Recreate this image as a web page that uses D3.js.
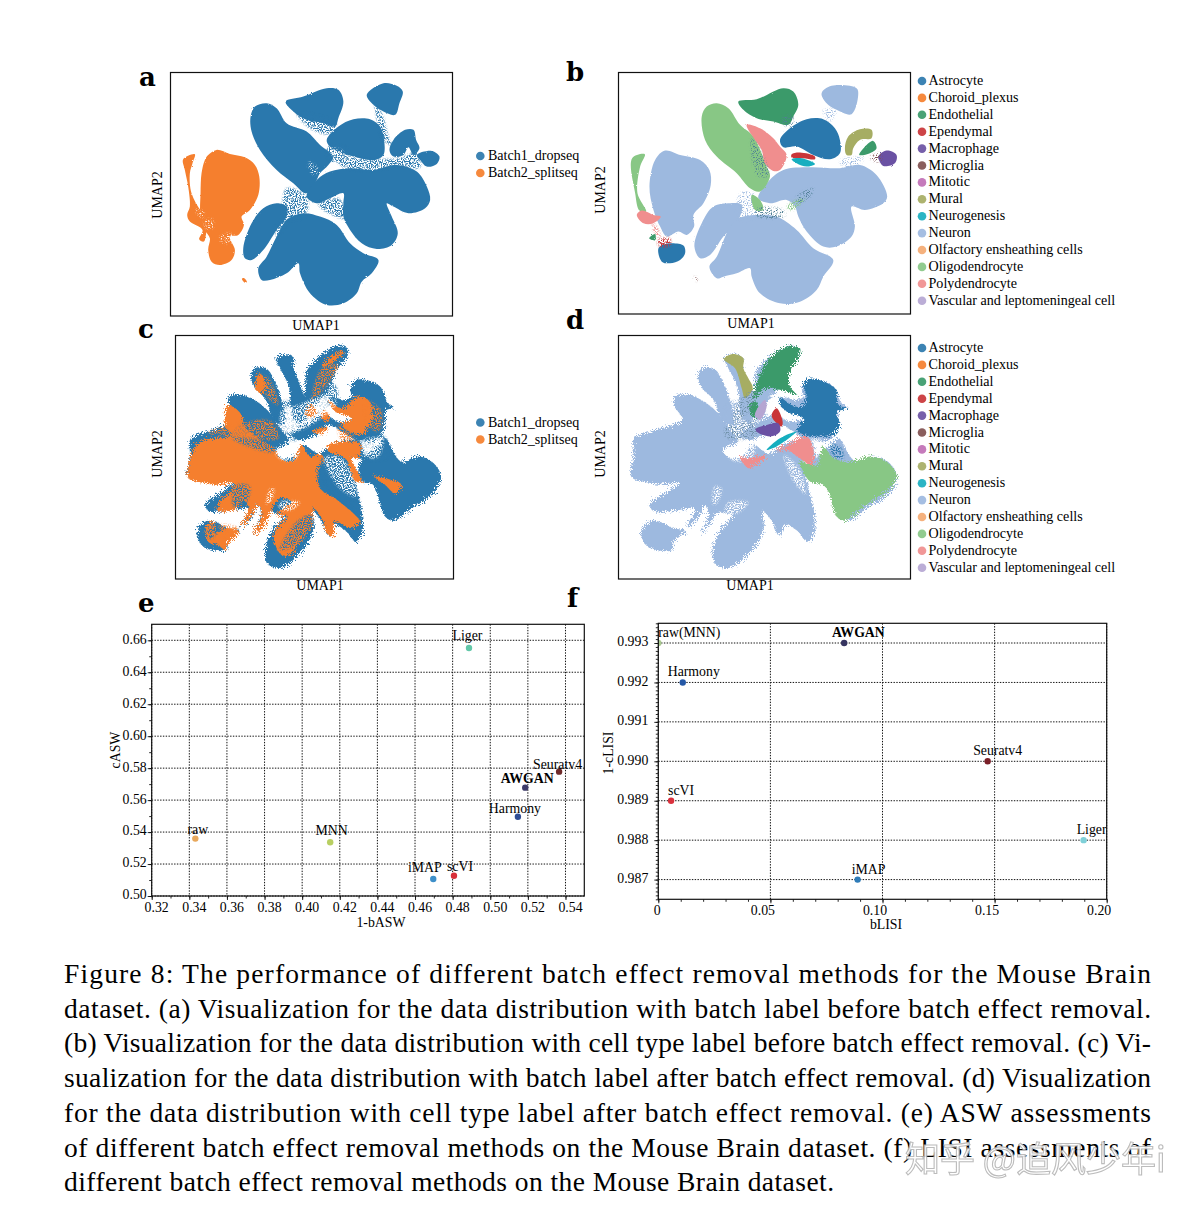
<!DOCTYPE html>
<html><head><meta charset="utf-8">
<script src="https://cdn.jsdelivr.net/npm/d3@7"></script>
<style>
html,body{margin:0;padding:0;background:#fff}
svg{display:block}
text{font-family:"Liberation Serif",serif;fill:#000}
</style></head><body>
<script>
// ---------- categories ----------
const batches = ["Batch1_dropseq", "Batch2_splitseq"];
const batchColors = ["#2b78ad", "#f57f2d"];
const cellTypes = ["Astrocyte","Choroid_plexus","Endothelial","Ependymal","Macrophage","Microglia","Mitotic","Mural","Neurogenesis","Neuron","Olfactory ensheathing cells","Oligodendrocyte","Polydendrocyte","Vascular and leptomeningeal cell"];
const cellColors = ["#2b78ad","#f57f2d","#3a9a6a","#c93437","#6a51a3","#80504f","#c06fb5","#a6ad63","#19aebf","#9db9df","#f4aa72","#88c785","#f08e8e","#b5a6d2"];

// ---------- panel e ----------
const aswMethods = ["raw","MNN","iMAP","scVI","Liger","Harmony","AWGAN","Seuratv4"];
const bASW = [0.3432,0.4149,0.4697,0.4807,0.4887,0.5147,0.5186,0.5366];
const cASW = [0.5359,0.5336,0.5106,0.5127,0.6552,0.5496,0.5678,0.5778];
const aswColors = ["#e8a85c","#b8cf62","#3d8fc9","#d8303a","#62c7a8","#2f4d94","#3c3a68","#6e2a2a"];
const bASWTicks = [0.32,0.34,0.36,0.38,0.40,0.42,0.44,0.46,0.48,0.50,0.52,0.54];
const cASWTicks = [0.50,0.52,0.54,0.56,0.58,0.60,0.62,0.64,0.66];

// ---------- panel f ----------
const lisiMethods = ["raw(MNN)","AWGAN","Harmony","Seuratv4","scVI","Liger","iMAP"];
const bLISI = [0.0,0.0829,0.0109,0.1469,0.0057,0.1897,0.0889];
const cLISI = [0.993,0.993,0.992,0.990,0.989,0.988,0.987];
const lisiColors = ["#a9c98f","#363460","#2458a6","#7a1f28","#d9303c","#7fd0d8","#2f7cb8"];
const bLISITicks = [0,0.05,0.10,0.15,0.20];
const cLISITicks = [0.987,0.988,0.989,0.990,0.991,0.992,0.993];

// ---------- UMAP outlines (embedding units) ----------
const aOrange = [
 [[235,285],[260,270],[300,282],[345,292],[375,315],[388,350],[385,405],[360,450],[335,470],[342,495],[325,525],[300,530],[315,570],[305,600],[270,615],[245,605],[235,570],[240,535],[225,510],[212,470],[212,400],[215,340],[225,300]],
 [[160,298],[195,283],[188,310],[180,340],[185,400],[215,455],[250,490],[232,510],[222,545],[208,538],[218,510],[180,485],[172,465],[180,440],[175,380],[165,330]],
 [[336,656],[342,654],[351,666],[345,668]]
];
const aBlue = [
 [[362,170],[375,140],[410,130],[440,145],[470,190],[530,215],[570,255],[610,290],[595,315],[570,340],[560,360],[540,395],[525,400],[490,370],[440,330],[390,270],[365,215]],
 [[467,125],[520,110],[590,85],[625,90],[640,125],[625,175],[615,200],[580,190],[530,180],[490,155]],
 [[710,105],[760,70],[800,78],[818,95],[808,130],[795,165],[760,155],[730,135]],
 [[590,240],[625,200],[670,178],[720,178],[750,200],[762,240],[760,285],[735,300],[690,295],[640,280],[600,260]],
 [[778,270],[790,240],[825,210],[850,210],[858,240],[868,265],[850,285],[835,262],[820,285],[790,290]],
 [[860,285],[905,273],[928,290],[920,312],[890,320],[870,300]],
 [[530,410],[560,360],[600,335],[660,325],[730,330],[800,315],[860,335],[890,380],[900,420],[885,445],[835,460],[790,440],[770,430],[785,470],[803,520],[785,555],[740,567],[695,550],[660,510],[640,470],[640,430],[640,400],[600,415],[560,430]],
 [[340,565],[365,490],[400,445],[440,430],[470,440],[470,470],[440,510],[400,570],[365,600],[345,595]],
 [[385,625],[410,590],[440,530],[470,480],[520,460],[570,470],[620,495],[660,550],[700,580],[745,600],[725,640],[695,665],[680,700],[640,730],[590,735],[540,700],[510,640],[505,610],[470,640],[420,660],[395,660]]
];
const aBlueGrain = [
 [[470,385],[530,410],[525,470],[465,475]],
 [[565,432],[625,415],[650,475],[600,462]],
 [[595,258],[655,268],[640,305],[595,295]],
 [[620,290],[720,298],[800,295],[860,280],[870,322],[800,322],[690,332],[630,315]],
 [[735,135],[755,160],[775,230],[785,255],[760,240],[740,175]],
 [[500,160],[620,190],[600,222],[540,205]],
 [[440,500],[475,465],[470,490],[440,530]]
];
const aWhiteGrain = [
 [[225,482],[248,478],[248,505],[228,505]],
 [[272,527],[308,522],[303,548],[274,548]],
 [[198,448],[222,456],[222,472],[207,468]],
 [[540,305],[565,330],[552,345],[535,322]],
 [[600,265],[640,275],[625,290],[605,285]]
];

const bLight = [
 [[118,380],[135,300],[165,272],[210,285],[270,300],[298,330],[302,375],[280,430],[250,465],[252,500],[230,525],[205,515],[170,530],[150,500],[130,450]],
 [[635,100],[665,78],[740,85],[745,105],[725,163],[680,150],[650,130]],
 [[445,415],[470,370],[520,330],[600,322],[690,325],[750,315],[800,345],[832,410],[820,430],[765,450],[725,440],[735,500],[725,530],[680,560],[640,560],[590,515],[565,470],[555,440],[530,420],[480,430]],
 [[253,560],[275,490],[310,440],[360,430],[395,435],[385,480],[340,530],[300,585],[270,595]],
 [[298,620],[320,590],[355,510],[385,475],[440,465],[500,470],[560,510],[610,565],[670,600],[640,650],[620,690],[570,725],[510,730],[450,700],[425,650],[420,625],[380,640],[340,650],[320,655]]
];
const bLightGrain = [
 [[390,400],[430,400],[440,470],[385,478]],
 [[640,150],[680,150],[660,185],[650,178]],
 [[690,300],[760,295],[740,320],[700,322]]
];
const bOligo = [
 [[275,170],[290,140],[320,130],[355,145],[390,195],[430,230],[470,320],[480,350],[450,395],[420,385],[380,340],[320,290],[285,240]],
 [[66,295],[104,283],[90,320],[82,400],[108,455],[88,452],[75,400]],
 [[425,405],[450,420],[460,450],[435,450]]
];
const bOligoGrain = [[[530,440],[570,415],[585,415],[545,452]]];
const bEndo = [
 [[385,125],[440,118],[520,85],[550,95],[565,135],[550,170],[535,195],[490,185],[440,175],[400,150]],
 [[748,285],[770,255],[790,243],[800,265],[780,280]],
 [[117,535],[135,522],[135,541]]
];
const bPoly = [
 [[410,195],[450,205],[490,235],[510,260],[530,285],[510,330],[490,333],[465,310],[455,270],[435,240]],
 [[80,465],[95,452],[130,465],[152,470],[130,490],[100,490]]
];
const bAstro = [
 [[510,240],[540,205],[590,178],[640,178],[675,205],[690,240],[690,280],[660,298],[610,285],[560,260],[520,262]],
 [[145,565],[165,552],[220,557],[225,580],[210,600],[180,610],[155,605]]
];
const bEpen = [[[545,283],[570,278],[615,290],[615,298],[580,295],[545,293]]];
const bNeuro = [[[545,298],[575,295],[615,312],[590,320],[560,310]]];
const bMural = [[[705,265],[715,230],[750,208],[785,210],[785,235],[750,240],[730,265],[725,285],[710,285]]];
const bMacro = [[[805,290],[830,272],[860,285],[855,310],[820,318],[808,302]]];
const bMicro = [[[780,292],[810,280],[815,305],[795,305]],[[250,650],[256,650],[263,662],[258,664]]];
const bGrayGrain = [
 [[425,235],[465,300],[475,345],[445,350],[425,290]],
 [[520,170],[550,170],[545,200],[520,195]],
 [[440,445],[520,450],[525,470],[440,468]],
 [[560,410],[610,385],[600,410],[565,430]]
];
const bRedGrain = [[[145,538],[180,535],[180,558],[145,558]]];
const bPaleGrain = [[[130,490],[150,520],[148,535],[125,500]]];

// silhouette after batch correction; shared by panels c and d
const cSilhouette = [
 [[78,340],[130,318],[190,298],[215,285],[190,240],[195,212],[240,212],[290,240],[320,270],[345,310],[370,350],[330,375],[350,400],[385,395],[415,360],[460,385],[520,350],[585,350],[590,400],[560,400],[570,470],[590,560],[592,620],[570,650],[545,620],[510,600],[490,632],[470,590],[445,560],[445,620],[400,690],[350,728],[310,720],[300,680],[325,610],[360,570],[330,565],[320,560],[290,600],[265,630],[288,570],[280,540],[255,585],[225,610],[250,550],[225,552],[170,560],[130,558],[122,535],[150,515],[205,472],[170,478],[100,470],[68,455],[75,390]],
 [[257,150],[275,128],[305,132],[330,170],[355,245],[360,300],[330,290],[300,220],[270,190]],
 [[335,100],[365,88],[388,100],[385,125],[400,165],[420,230],[400,290],[385,280],[370,180],[345,130]],
 [[425,140],[470,90],[520,62],[548,70],[545,100],[520,125],[490,190],[450,240],[420,280],[400,300],[420,200]],
 [[555,190],[575,165],[620,170],[650,190],[668,235],[688,248],[662,258],[660,300],[640,340],[600,350],[560,340],[530,320],[490,300],[450,330],[400,345],[380,330],[420,300],[480,270],[520,290],[560,280],[530,260],[490,235],[500,218],[540,225],[560,215]],
 [[660,340],[690,390],[710,410],[760,395],[800,410],[828,455],[800,510],[740,550],[685,588],[660,575],[640,520],[625,480],[590,470],[580,450],[590,400],[630,370]],
 [[95,625],[120,590],[150,590],[190,610],[225,618],[190,650],[185,675],[140,675],[110,660]]
];
const cBridgeGrain = [
 [[340,240],[420,225],[470,270],[400,345],[350,335]],
 [[590,340],[660,335],[665,400],[600,400]],
 [[440,200],[500,170],[520,210],[470,260]]
];
const cOrange = [
 [[75,400],[105,350],[200,330],[180,300],[190,240],[230,270],[235,300],[280,340],[330,370],[340,395],[380,410],[410,360],[435,395],[465,385],[480,410],[460,430],[465,490],[510,520],[570,570],[585,590],[560,610],[510,590],[505,635],[485,625],[470,580],[445,550],[440,600],[400,660],[365,695],[340,680],[325,630],[365,570],[335,575],[345,555],[380,530],[345,520],[320,560],[300,600],[265,630],[290,570],[280,540],[255,580],[225,608],[250,550],[240,530],[210,555],[155,555],[165,530],[205,490],[205,472],[170,480],[120,475],[70,460],[68,440]],
 [[270,190],[285,145],[300,175],[290,205]],
 [[470,125],[530,75],[535,85],[480,125]],
 [[490,225],[530,250],[580,215],[610,225],[620,280],[590,330],[530,300],[560,280],[510,260]],
 [[420,265],[440,240],[455,260],[430,280]],
 [[470,270],[480,255],[495,280],[475,290]],
 [[440,320],[490,305],[470,325]],
 [[490,360],[560,350],[585,355],[580,400],[560,400],[590,470],[570,470],[540,400],[490,380]],
 [[625,455],[660,460],[710,480],[690,505],[660,480]],
 [[125,600],[150,590],[150,625],[190,610],[222,620],[190,655],[180,675],[160,660],[130,650]]
];
const cBlueGrain = [
 [[200,335],[235,295],[320,295],[345,345],[335,380],[250,365]],
 [[470,400],[520,400],[570,480],[580,560],[510,505],[480,470]],
 [[215,480],[255,485],[240,540],[205,545]],
 [[345,675],[395,590],[440,570],[420,640]],
 [[130,610],[150,600],[145,640],[130,640]]
];
const cOrangeGrain = [
 [[275,150],[310,160],[340,240],[310,220]],
 [[470,130],[520,120],[470,200],[440,230]],
 [[130,325],[200,300],[320,290],[340,340],[200,335]],
 [[520,300],[570,340],[530,345]],
 [[160,600],[220,610],[190,640]],
 [[600,225],[650,260],[640,320],[610,300]]
];
const cWhiteGrain = [
 [[332,380],[370,368],[400,372],[392,403],[347,403]],
 [[350,255],[400,240],[470,215],[515,232],[470,278],[400,318],[355,318]],
 [[592,348],[640,338],[655,348],[636,398],[602,393]],
 [[478,398],[528,398],[568,470],[575,515],[522,488]],
 [[315,492],[328,492],[318,528],[304,538]],
 [[345,532],[405,532],[378,556],[345,553]],
 [[155,592],[222,616],[195,608]]
];

// panel d overlays
const dEndo = [
 [[440,175],[470,110],[530,65],[570,70],[565,100],[540,140],[540,185],[560,210],[510,195],[460,195],[430,225]],
 [[418,240],[440,230],[445,255],[430,280]]
];
const dMural = [[[342,103],[365,88],[400,100],[400,130],[415,160],[428,190],[405,220],[395,190],[375,130]]];
const dAstro = [[[580,180],[600,162],[640,170],[680,195],[685,240],[715,250],[680,262],[690,300],[670,330],[620,335],[560,320],[580,280],[540,265],[510,240],[510,218],[545,240],[575,245],[590,220]]];
const dOligo = [[[570,410],[620,420],[640,365],[670,400],[720,410],[780,395],[830,410],[862,455],[830,500],[760,545],[705,587],[680,575],[655,500],[640,480],[600,470]]];
const dPoly = [[[500,380],[540,355],[590,335],[610,370],[605,420],[570,400],[530,375]],[[390,395],[410,400],[470,390],[415,430]]];
const dEpen = [[[485,270],[500,250],[518,290],[515,305],[495,290]]];
const dMacro = [[[435,315],[470,300],[505,295],[510,320],[480,335]]];
const dVlmc = [[[435,270],[465,225],[470,245],[450,285]]];
const dNeuro = [[[470,375],[510,340],[560,320],[500,365]]];
const dAstroGrain = [[[660,360],[690,365],[700,400],[670,395]]];
const dGrayGrain = [[[345,310],[430,290],[440,330],[350,340]],[[380,240],[440,190],[420,260],[370,290]]];
const dNeuronGrain = [[[350,240],[430,225],[470,275],[400,345],[355,335]]];
const dWhiteGrain = [
 [[348,378],[395,368],[438,362],[418,408],[362,403]],
 [[482,205],[518,248],[482,248]],
 [[602,342],[638,347],[620,398],[612,380]],
 [[522,392],[568,432],[588,508],[552,470]],
 [[315,484],[335,492],[320,536],[308,538]],
 [[355,532],[415,532],[380,566],[345,558]],
 [[155,597],[222,616],[195,608]],
 [[440,345],[505,332],[468,372]]
];

const captionLines = [
 "Figure 8: The performance of different batch effect removal methods for the Mouse Brain",
 "dataset. (a) Visualization for the data distribution with batch label before batch effect removal.",
 "(b) Visualization for the data distribution with cell type label before batch effect removal. (c) Vi-",
 "sualization for the data distribution with batch label after batch effect removal. (d) Visualization",
 "for the data distribution with cell type label after batch effect removal. (e) ASW assessments",
 "of different batch effect removal methods on the Mouse Brain dataset. (f) LISI assessments of",
 "different batch effect removal methods on the Mouse Brain dataset."
];

// ---------- drawing ----------
const W=1204,H=1208;
const svg=d3.select("body").append("svg").attr("width",W).attr("height",H).attr("viewBox",`0 0 ${W} ${H}`);
const defs=svg.append("defs");
function rough(id,freq,scale){
  const f=defs.append("filter").attr("id",id).attr("filterUnits","userSpaceOnUse")
    .attr("x",0).attr("y",0).attr("width",W).attr("height",H);
  f.append("feTurbulence").attr("type","fractalNoise").attr("baseFrequency",freq).attr("numOctaves",2).attr("seed",3).attr("result","n");
  f.append("feDisplacementMap").attr("in","SourceGraphic").attr("in2","n").attr("scale",scale);
}
function grain(id,freq,k,c,seed){
  const f=defs.append("filter").attr("id",id).attr("filterUnits","userSpaceOnUse")
    .attr("x",0).attr("y",0).attr("width",W).attr("height",H).attr("color-interpolation-filters","sRGB");
  f.append("feGaussianBlur").attr("in","SourceGraphic").attr("stdDeviation",1.2).attr("result","soft");
  f.append("feTurbulence").attr("type","fractalNoise").attr("baseFrequency",freq).attr("numOctaves",1).attr("seed",seed).attr("result","n");
  f.append("feColorMatrix").attr("in","n").attr("type","matrix")
    .attr("values",`0 0 0 0 0  0 0 0 0 0  0 0 0 0 0  ${k} 0 0 0 ${-c}`).attr("result","m");
  f.append("feComposite").attr("in","soft").attr("in2","m").attr("operator","in");
}
rough("rough",0.9,2);
rough("fuzzy",1.1,9);
grain("grainA",0.85,7,3.1,5);
grain("grainB",0.8,7,3.6,11);

const line=(x,y)=>d3.line().x(d=>x(d[0])).y(d=>y(d[1])).curve(d3.curveCatmullRomClosed.alpha(0.5));

function umap(id,r,domX,domY){
  const x=d3.scaleLinear().domain(domX).range([r.x0,r.x1]);
  const y=d3.scaleLinear().domain(domY).range([r.y0,r.y1]);
  defs.append("clipPath").attr("id",id).append("rect").attr("x",r.x0).attr("y",r.y0).attr("width",r.x1-r.x0).attr("height",r.y1-r.y0);
  const g=svg.append("g").attr("clip-path",`url(#${id})`);
  const api={
    x,y,
    layer(shapes,color,filter,sx,sy){
      const l=line(sx||x,sy||y);
      g.append("g").attr("filter",`url(#${filter||"rough"})`)
       .selectAll("path").data(shapes).join("path").attr("d",l).attr("fill",color);
      return api;
    }
  };
  api.frame=()=>svg.append("rect").attr("x",r.x0).attr("y",r.y0).attr("width",r.x1-r.x0).attr("height",r.y1-r.y0)
     .attr("fill","none").attr("stroke","#111").attr("stroke-width",1.2);
  return api;
}
const blue=batchColors[0],orange=batchColors[1];
const col=n=>cellColors[cellTypes.indexOf(n)];

// a
const pa=umap("ca",{x0:170.5,x1:452.5,y0:72.5,y1:316},[122,967],[38,768]);
pa.layer(aBlue,blue).layer(aBlueGrain,blue,"grainA").layer(aOrange,orange).layer(aWhiteGrain,"#fff","grainB"); pa.frame();
// b
const pb=umap("cb",{x0:618.5,x1:910.5,y0:72.5,y1:314},[25,902],[38,762]);
pb.layer(bLight,col("Neuron")).layer(bLightGrain,col("Neuron"),"grainB").layer(bOligo,col("Oligodendrocyte")).layer(bOligoGrain,col("Oligodendrocyte"),"grainA").layer(bEndo,col("Endothelial")).layer(bPoly,col("Polydendrocyte"))
  .layer(bAstro,col("Astrocyte")).layer(bEpen,col("Ependymal")).layer(bNeuro,col("Neurogenesis")).layer(bMural,col("Mural"))
  .layer(bMacro,col("Macrophage")).layer(bMicro,col("Microglia"),"grainB")
  .layer(bGrayGrain,"#4f7f95","grainB").layer(bRedGrain,col("Ependymal"),"grainA").layer(bPaleGrain,col("Polydendrocyte"),"grainA"); pb.frame();
// c
const pc=umap("cc",{x0:175.5,x1:453.5,y0:335.5,y1:579},[32,865],[32,762]);
pc.layer(cSilhouette,blue,"fuzzy").layer(cBridgeGrain,blue,"grainA").layer(cOrange,orange,"fuzzy").layer(cBlueGrain,blue,"grainA").layer(cOrangeGrain,orange,"grainA").layer(cWhiteGrain,"#fff","grainA"); pc.frame();
// d
const pd=umap("cd",{x0:618.5,x1:910.5,y0:335.5,y1:579},[32,865],[32,762]);
const dx=d3.scaleLinear().domain([25,902]).range([618.5,910.5]);
pd.layer(cSilhouette,col("Neuron"),"fuzzy");
[[dNeuronGrain,col("Neuron"),"grainA"],[dWhiteGrain,"#fff","grainA"],[dOligo,col("Oligodendrocyte"),"fuzzy"],[dAstro,col("Astrocyte"),"fuzzy"],[dEndo,col("Endothelial"),"fuzzy"],[dMural,col("Mural")],[dPoly,col("Polydendrocyte"),"fuzzy"],
 [dEpen,col("Ependymal")],[dMacro,col("Macrophage")],[dVlmc,cellColors[13]],[dNeuro,col("Neurogenesis")],[dAstroGrain,col("Astrocyte"),"grainA"],[dGrayGrain,"#6d8fa6","grainB"]]
 .forEach(([s,c,f])=>pd.layer(s,c,f,dx,pd.y));
pd.frame();

// legends
function legend(names,colors,dotX,textX,startY,step,size){
  const g=svg.append("g");
  const rows=g.selectAll("g").data(names).join("g").attr("transform",(d,i)=>`translate(0,${startY+i*step})`);
  rows.append("circle").attr("cx",dotX).attr("cy",0.5).attr("r",4.3).attr("fill",(d,i)=>colors[i]).attr("opacity",0.92);
  rows.append("text").attr("x",textX).attr("y",4.5).attr("font-size",size).text(d=>d);
}
legend(batches,batchColors,480.3,488,155.5,17,14.05);
legend(batches,batchColors,480.3,488,422,17,14.05);
legend(cellTypes,cellColors,922,928.5,80.5,16.9,14.1);
legend(cellTypes,cellColors,922,928.5,347.5,16.9,14.1);

function title(t,x,y,rot,size,weight){
  const s=svg.append("text").attr("font-size",size||14).attr("text-anchor","middle").attr("font-weight",weight||"normal").text(t);
  if(rot) s.attr("transform",`translate(${x},${y}) rotate(-90)`); else s.attr("x",x).attr("y",y);
}
title("UMAP1",316,330); title("UMAP2",162,195,true);
title("UMAP1",751,328); title("UMAP2",605,190,true);
title("UMAP1",320,590); title("UMAP2",162,454,true);
title("UMAP1",750,590); title("UMAP2",605,454,true);

[["a",139,86],["b",566,81],["c",138,338],["d",566,329],["e",138,612],["f",567,607]].forEach(([t,x,y])=>
  svg.append("text").attr("x",x).attr("y",y).attr("font-size",26).attr("font-weight","bold").style("font-family",'"DejaVu Serif"').text(t));

// scatter panels
function scatter(id,r,domX,domY,xt,yt,xMinor,yMinor,xFmt,yFmt,names,xs,ys,cols,offs,xLabelDx,yPad){
  const x=d3.scaleLinear().domain(domX).range([r.x0,r.x1]);
  const y=d3.scaleLinear().domain(domY).range([r.y1,r.y0]);
  defs.append("clipPath").attr("id",id).append("rect").attr("x",r.x0).attr("y",r.y0).attr("width",r.x1-r.x0).attr("height",r.y1-r.y0);
  const gx=svg.append("g").attr("transform",`translate(0,${r.y1})`);
  const gy=svg.append("g").attr("transform",`translate(${r.x0},0)`);
  const style=(a)=>{a.select(".domain").remove();a.selectAll("line").attr("stroke","#111").attr("stroke-width",0.9);};
  gx.call(d3.axisBottom(x).tickValues(xMinor).tickSize(2.5).tickFormat("")).call(style);
  gy.call(d3.axisLeft(y).tickValues(yMinor).tickSize(2.5).tickFormat("")).call(style);
  const ax=svg.append("g").attr("transform",`translate(0,${r.y1})`).call(d3.axisBottom(x).tickValues(xt).tickSize(4).tickPadding(2).tickFormat(xFmt)).call(style);
  const ay=svg.append("g").attr("transform",`translate(${r.x0},0)`).call(d3.axisLeft(y).tickValues(yt).tickSize(4).tickPadding(yPad).tickFormat(yFmt)).call(style);
  [ax,ay].forEach(a=>a.selectAll("text").attr("font-size",13.8).attr("font-family","Liberation Serif").attr("fill","#000"));
  ax.selectAll("text").attr("dx",xLabelDx);
  ay.selectAll("text").attr("transform","translate(0,-1.5)");
  const grid=svg.append("g").attr("stroke","#111").attr("stroke-width",1).attr("stroke-dasharray","1.4 1.4");
  grid.selectAll(".v").data(xt).join("line").attr("x1",x).attr("x2",x).attr("y1",r.y0).attr("y2",r.y1);
  grid.selectAll(".h").data(yt).join("line").attr("y1",y).attr("y2",y).attr("x1",r.x0).attr("x2",r.x1);
  const marks=svg.append("g").attr("clip-path",`url(#${id})`);
  marks.selectAll("circle").data(names).join("circle").attr("cx",(d,i)=>x(xs[i])).attr("cy",(d,i)=>y(ys[i])).attr("r",3.2).attr("fill",(d,i)=>cols[i]);
  marks.selectAll("text").data(names).join("text").attr("text-anchor","middle").attr("font-size",13.8)
    .attr("font-weight",d=>d==="AWGAN"?"bold":"normal")
    .attr("x",(d,i)=>x(xs[i])+offs[d][0]).attr("y",(d,i)=>y(ys[i])+offs[d][1]).text(d=>d);
  svg.append("rect").attr("x",r.x0).attr("y",r.y0).attr("width",r.x1-r.x0).attr("height",r.y1-r.y0).attr("fill","none").attr("stroke","#111").attr("stroke-width",1.2);
}
const aswOffsets={raw:[2.5,-5],MNN:[1.5,-7],iMAP:[-8.5,-7],scVI:[6,-4.5],Liger:[-1.5,-8],Harmony:[-3,-3.5],AWGAN:[2,-5],Seuratv4:[-1.5,-3]};
const lisiOffsets={"raw(MNN)":[31,-6],AWGAN:[14.2,-6],Harmony:[11,-6],Seuratv4:[10,-6],scVI:[10,-6],Liger:[8,-6],iMAP:[11,-6]};
scatter("ce",{x0:151.7,x1:584.3,y0:624.3,y1:896},[0.32,0.55],[0.5,0.67],bASWTicks,cASWTicks,d3.range(32,55).map(v=>v/100),d3.range(50,67).map(v=>v/100),d3.format(".2f"),d3.format(".2f"),aswMethods,bASW,cASW,aswColors,aswOffsets,4.5,1);
scatter("cf",{x0:658.3,x1:1106.7,y0:623.3,y1:899.3},[0,0.2],[0.9865,0.9935],bLISITicks,cLISITicks,d3.range(0,21).map(v=>v/100),d3.range(0,71).map(v=>0.9865+v*0.0001),d=>d===0?"0":d3.format(".2f")(d),d3.format(".3f"),lisiMethods,bLISI,cLISI,lisiColors,lisiOffsets,d=>d===0?-1.5:-8,6);
title("1-bASW",381,927,false,13.8);
title("cASW",120,750,true,13.8);
title("bLISI",886,929,false,13.8);
title("1-cLISI",612.5,753,true,13.8);

// caption
const capG=svg.append("g");
capG.selectAll("text").data(captionLines).join("text")
  .attr("x",64).attr("y",(d,i)=>983+i*34.7).attr("font-size",27.5).text(d=>d)
  .attr("textLength",(d,i)=>i<6?1087:770).attr("lengthAdjust","spacing");

// watermark
svg.append("text").attr("x",905).attr("y",1172).attr("font-size",35)
  .style("font-family",'"Noto Sans CJK SC"').style("fill","#fff").attr("stroke","#b5b5b5").attr("stroke-width",1.1).attr("opacity",0.9).text("知乎 @追风少年i");
</script>
</body></html>
